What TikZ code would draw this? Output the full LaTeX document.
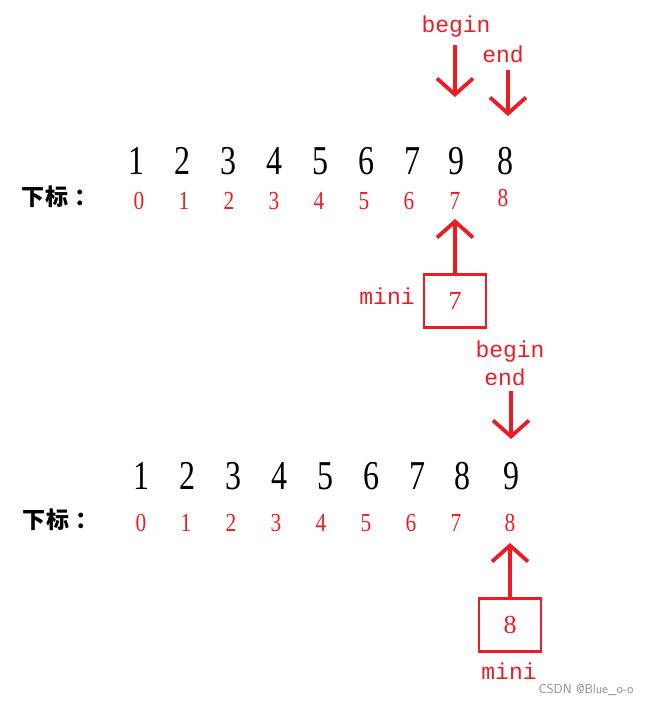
\documentclass[tikz,border=0pt]{standalone}
\usepackage{fontspec}
\setmainfont{Liberation Serif}
\newfontfamily\cjkfont{Noto Sans CJK SC}
\newfontfamily\monofont{Liberation Mono}
\usetikzlibrary{arrows.meta}
\definecolor{pred}{HTML}{ED1C24}
\tikzset{
  digit/.style={font=\fontsize{41}{41}\selectfont, inner sep=0pt, xscale=0.78},
  idx/.style={text=pred, font=\fontsize{26}{26}\selectfont, inner sep=0pt, xscale=0.82},
  lbl/.style={text=pred, font=\monofont\fontsize{23}{23}\selectfont, inner sep=0pt},
  cjk/.style={font=\cjkfont\bfseries\fontsize{23}{23}\selectfont, inner sep=0pt, anchor=west},
  arr/.style={draw=pred, line width=3.8pt, -{Straight Barb[length=16pt,width=36pt,line width=3.8pt]}},
  box/.style={draw=pred, line width=2.6pt, minimum width=62pt, minimum height=53pt, text=pred, font=\fontsize{26}{26}\selectfont, inner sep=0pt}
}
\begin{document}
\begin{tikzpicture}[x=1pt,y=-1pt]
\useasboundingbox (0,0) rectangle (654,706);
% ---------- top part ----------
\foreach \v/\x [count=\i] in {1/136,2/182,3/228,4/274,5/320,6/366,7/412,9/456,8/505}{
  \node[digit] (a\i) at (\x,161) {\v};
}
\node[cjk] (xb1) at (21,197) {下\hspace{1pt}标\hspace{6pt}：};
\foreach \v/\x [count=\i] in {0/139,1/184,2/229,3/274,4/319,5/364,6/409,7/455}{
  \node[idx] (p\i) at (\x,201) {\v};
}
\node[idx] (p9) at (503,198) {8};
\node[lbl] (beg1) at (456,27) {begin};
\node[lbl] (end1) at (503,54) {end};
\coordinate (bs1) at (455,45);
\coordinate (bt1) at (455,97);
\coordinate (es1) at (508,70);
\coordinate (et1) at (508,116);
\draw[arr] (bs1) -- (bt1);
\draw[arr] (es1) -- (et1);
\node[box] (m1) at (455,301) {7};
\node[lbl] (mini1) at (387,296) {mini};
\coordinate (mt1) at (457,219);
\draw[arr] (m1.north) -- (m1.north |- mt1);
% ---------- bottom part ----------
\foreach \v/\x [count=\i] in {1/141,2/187,3/233,4/279,5/325,6/371,7/417,8/462,9/511}{
  \node[digit] (b\i) at (\x,476) {\v};
}
\node[cjk] (xb2) at (22,520) {下\hspace{1pt}标\hspace{6pt}：};
\foreach \v/\x [count=\i] in {0/141,1/186,2/231,3/276,4/321,5/366,6/411,7/456,8/510}{
  \node[idx] (q\i) at (\x,523) {\v};
}
\node[lbl] (beg2) at (510,352) {begin};
\node[lbl] (end2) at (505,377) {end};
\coordinate (bs2) at (511,391);
\coordinate (bt2) at (511,439);
\draw[arr] (bs2) -- (bt2);
\node[box] (m2) at (510,625) {8};
\node[lbl] (mini2) at (509,671) {mini};
\coordinate (mt2) at (511,543);
\draw[arr] (m2.north) -- (m2.north |- mt2);
\node[text=black!45, font=\fontsize{13}{13}\selectfont\sffamily, inner sep=0pt] (wm) at (586,690) {CSDN @Blue\_o-o};
\end{tikzpicture}
\end{document}
